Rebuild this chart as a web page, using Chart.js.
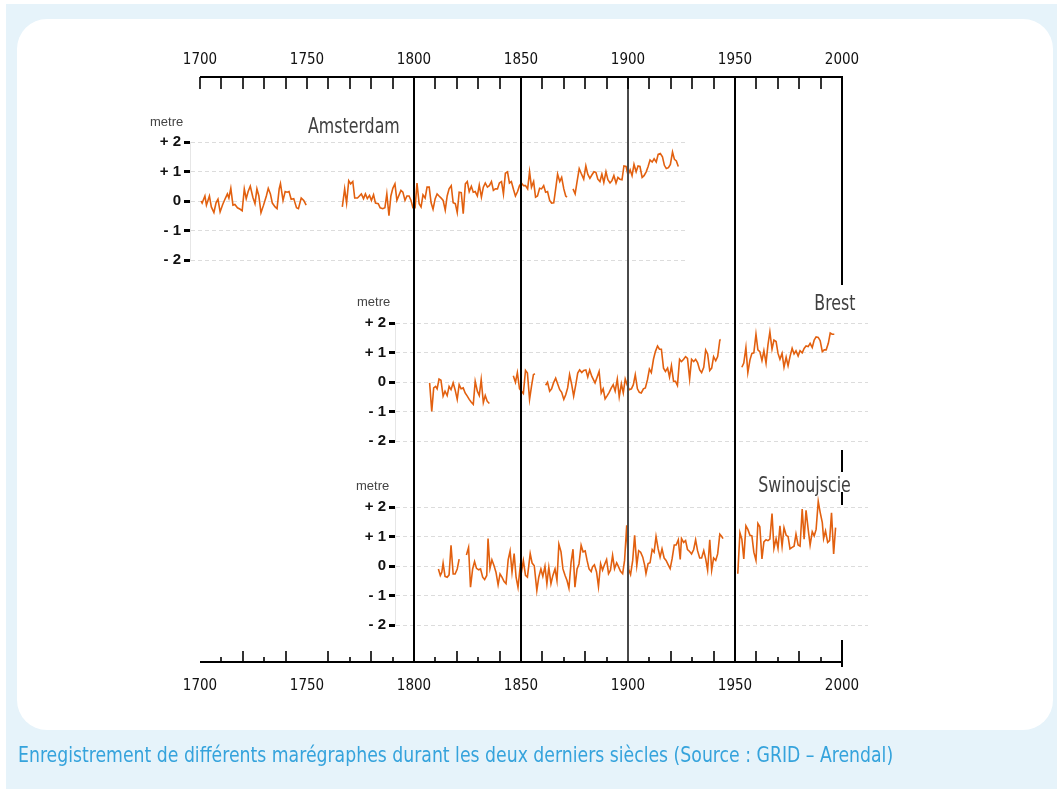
<!DOCTYPE html>
<html lang="fr">
<head>
<meta charset="UTF-8" />
<title>Marégraphes</title>
<script src="https://cdn.jsdelivr.net/npm/chart.js"></script>
<style>
  body { margin: 0; width: 1057px; height: 789px; position: relative; overflow: hidden; background: #fff;
         font-family: 'Liberation Sans', Arial, sans-serif; }
  #bg { position: absolute; left: 6px; top: 4px; width: 1051px; height: 785px; background: #e6f3fa; }
  #card { position: absolute; left: 17px; top: 19px; width: 1036px; height: 711px; background: #fff; border-radius: 30px; }
  canvas { position: absolute; }
  .station { position: absolute; font-family: 'DejaVu Sans Condensed', sans-serif; font-size: 22px; line-height: 22px;
             color: #404040; white-space: nowrap; transform: scaleX(0.8); transform-origin: right center; }
  .unit { position: absolute; font-size: 13px; line-height: 14px; color: #444; }
  #caption { position: absolute; left: 18px; top: 743px; font-family: 'DejaVu Sans Condensed', sans-serif;
             font-size: 21px; line-height: 24px; color: #35a3dc; white-space: nowrap;
             transform: scaleX(0.915); transform-origin: left center; }
</style>
</head>
<body>
<div id="bg"></div>
<div id="card"></div>

<canvas id="amsterdam" width="550" height="160" style="left:140px; top:112px"></canvas>
<canvas id="brest" width="535" height="160" style="left:340px; top:293px"></canvas>
<canvas id="swinoujscie" width="535" height="160" style="left:340px; top:477px"></canvas>
<canvas id="frame" width="1057" height="789" style="left:0; top:0"></canvas>

<div class="station" style="right:657px; top:115px">Amsterdam</div>
<div class="station" style="right:202px; top:292px">Brest</div>
<div class="station" style="right:206px; top:474px">Swinoujscie</div>
<div class="unit" style="left:150px; top:115px">metre</div>
<div class="unit" style="left:357px; top:295px">metre</div>
<div class="unit" style="left:356px; top:479px">metre</div>
<div id="caption">Enregistrement de différents marégraphes durant les deux derniers siècles (Source : GRID – Arendal)</div>

<script>
// --- data (sea level in metres, null = gap in the record) ---
const yearLabels = [1700, 1750, 1800, 1850, 1900, 1950, 2000];
const levelTickLabels = ['- 2', '- 1', '0', '+ 1', '+ 2'];

const amsterdamYears = [
  1700.5,1701,1702.3,1703,1704.4,1705.3,1706.5,1707.5,1708.4,1709.4,1710.6,1711.9,1712.8,1713.5,1714.4,1715.4,1716.3,
  1717.5,1718.8,1719.7,1720.7,1721.6,1722.5,1723.5,1724.7,1725.7,1726.6,1727.5,1728.5,1729.7,1731,1731.9,1732.9,1733.8,
  1735.1,1736,1737,1737.6,1738.8,1739.8,1740.7,1741.6,1742.6,1743.8,1745.1,1746,1747.3,1748.5,1749.6,
  1758,
  1766.5,1767.6,1768.5,1769.5,1770.4,1771.4,1772.3,1773.6,1774.5,1775.4,1776.4,1777.3,1778.2,1779.2,1780.1,1781.1,1782,
  1783.3,1784.2,1785.4,1786.4,1787.3,1788.3,1789.2,1790.1,1791.1,1792,1793.9,1794.8,1795.8,1796.7,1797.7,1798.6,1799.5,
  1800.5,1801.4,1802.4,1803.3,1804.2,1805.2,1806.1,1807.1,1808,1808.9,1809.9,1810.8,1811.7,1812.7,1813.6,1814.6,1815.5,
  1816.4,1817.4,1818.3,1819.3,1820.2,1821.1,1822.1,1823,1824,1824.9,1825.8,1826.8,1827.7,1828.6,1829.6,1830.5,1831.5,
  1832.4,1833.3,1834.3,1835.2,1836.2,1837.1,1838,1839,1839.9,1840.9,1841.8,1842.7,1843.7,1844.6,1845.5,1846.5,1847.4,
  1848.4,1849.3,1850.2,1851.2,1852.1,1853.1,1854,1854.9,1855.9,1856.8,1857.7,1858.7,1859.6,1860.6,1861.5,1862.4,1863.4,
  1864.3,1865.3,1866.2,1867.1,1868.1,1869,1870,1870.9,1871.5,
  1873,
  1874.3,1875.3,1876.2,1877.2,1878.1,1879.3,1880.3,1881.2,1882.2,1883.1,1884.1,1885,1885.9,1886.9,1887.8,1888.7,1889.7,
  1890.6,1891.6,1892.5,1893.4,1894.4,1895.3,1896.2,1897.2,1898.1,1899.1,1900,1901,1901.9,1902.8,1903.8,1904.7,1905.6,
  1906.6,1907.5,1908.5,1909.4,1910.3,1911.3,1912.2,1913.2,1914.1,1915.1,1916.1,1917,1917.9,1918.9,1919.8,1920.8,1921.7,
  1922.6,1923.5
];
const amsterdamLevels = [
  0,-0.07,0.17,-0.14,0.17,-0.2,-0.39,-0.06,0.06,-0.37,-0.12,0.1,0.24,0.1,0.43,-0.14,-0.12,
  -0.23,-0.28,-0.33,0.41,0.08,0.32,0.5,0.13,-0.09,0.41,0.17,-0.4,-0.14,0.17,0.43,0.24,-0.07,
  -0.2,-0.26,0.41,0.59,0.02,0.32,0.3,0.32,0.06,0.08,-0.23,-0.26,0.1,0.02,-0.14,
  null,
  -0.2,0.41,-0.07,0.69,0.58,0.66,0.1,0.1,0.17,0.24,0.08,0.24,0.08,0.19,0.02,0.21,-0.07,
  -0.09,-0.23,-0.26,-0.23,0.24,-0.5,0.17,0.43,0.58,0.02,0.36,0.3,0.02,0.17,0.17,0.02,-0.23,
  -0.23,0.61,-0.09,-0.2,0.21,0.1,0.47,0.47,-0.06,-0.28,0.08,0.24,0.17,0.1,0.02,-0.31,0.17,
  0.41,0.52,-0.06,-0.09,-0.39,0.3,0.28,-0.43,0.58,0.66,0.32,0.5,0.3,0.32,0.17,0.54,0.13,
  0.47,0.61,0.47,0.52,0.66,0.36,0.41,0.41,0.61,0.66,0.24,0.94,0.99,0.61,0.66,0.39,0.17,
  0.32,0.52,0.61,0.52,0.52,0.41,0.99,0.47,0.66,0.13,0.17,0.43,0.41,0.52,0.3,0.32,0.02,
  -0.07,-0.06,0.41,0.91,0.66,0.8,0.41,0.17,0.13,
  null,
  0.41,0.24,0.66,1.1,0.94,0.74,1.19,0.91,0.77,0.88,0.99,0.97,0.74,0.66,0.91,0.63,0.99,
  0.72,0.61,0.69,0.86,0.61,0.8,0.74,0.72,1.19,1.17,0.88,1.06,0.86,1.24,0.99,1.19,1.17,
  0.8,0.86,0.99,1.17,1.39,1.32,1.43,1.32,1.58,1.61,1.5,1.21,1.1,1.13,1.24,1.66,1.41,
  1.36,1.17
];

const brestYears = [
  1807.3,1808.3,1809.2,1810.1,1810.8,1811.7,1812.6,1813.6,1814.5,1815.5,1816.4,1817.3,1818.3,1819.2,1820.2,1821.1,
  1822,1823,1823.9,1824.9,1825.8,1826.7,1827.7,1828.6,1829.6,1830.5,1831.4,1832.4,1833.3,1834.2,1835.2,
  1840,
  1846.4,1847.4,1848.3,1849.3,1850.2,1851.1,1852.1,1853,1854,1854.9,1855.8,1856.5,
  1859,
  1861.5,1862.4,1863.4,1864.3,1865.2,1866.2,1867.1,1868.1,1869,1870,1870.9,1871.8,1872.7,1873.7,1874.6,1875.6,
  1876.5,1877.4,1878.4,1879.3,1880.3,1881.2,1882.1,1883.1,
  1884.6,1885.6,1886.5,1887.5,1888.4,1889.3,1890.3,1891.2,1892.2,1893.1,1894,1895,1895.9,1896.9,1897.8,1898.7,
  1899.7,1900.6,1901.6,1902.5,1903.4,1904.4,1905.3,1906.2,1907.2,1908.1,1909.1,1910,1910.9,1911.9,1912.8,1913.8,
  1914.7,1915.6,1916.6,1917.5,1918.5,1919.4,1920.3,1921.3,1922.2,1923.1,1924.1,1925,1926,1926.9,1927.8,1928.8,
  1929.7,1930.7,1931.6,1932.5,1933.5,1934.4,1935.4,1936.3,1937.2,1938.2,1939.1,1940,1941,1941.9,1942.9,1943.3,
  1948,
  1953.2,1954.1,1955.1,1956,1957,1957.9,1958.8,1959.8,1960.7,1961.6,1962.6,1963.5,1964.5,1965.4,1966.3,1967.3,
  1968.2,1969.2,1970.1,1971,1972,1972.9,1973.9,1974.8,1975.7,1976.7,1977.6,1978.5,1979.5,1980.4,1981.4,1982.3,
  1983.2,1984.2,1985.1,1986.1,1987,1987.9,1988.9,1989.8,1990.8,1991.7,1992.6,1993.6,1994.5,1995.4,1996.4
];
const brestLevels = [
  -0.03,-1.0,-0.2,-0.15,-0.23,0.1,0.06,-0.48,-0.31,-0.46,-0.15,-0.26,-0.03,-0.26,-0.59,-0.09,
  -0.23,-0.2,-0.37,-0.48,-0.59,-0.68,-0.76,0.02,-0.31,-0.46,0.08,-0.7,-0.46,-0.65,-0.73,
  null,
  0.21,-0.01,0.32,-0.23,-0.31,-0.39,0.39,0.3,-0.59,-0.15,0.25,0.28,
  null,
  -0.11,-0.01,-0.31,-0.23,-0.03,0.13,-0.06,-0.26,-0.35,-0.59,-0.43,-0.2,0.25,-0.09,-0.48,-0.09,
  0.3,0.41,0.32,0.39,0.41,0.17,0.41,0.19,
  -0.03,0.17,0.36,-0.37,-0.23,-0.57,-0.46,-0.35,-0.2,-0.09,-0.31,0.1,-0.5,-0.06,-0.37,0.1,
  -0.12,-0.26,-0.23,-0.09,0.25,-0.23,-0.35,-0.37,-0.23,-0.2,0.08,0.44,0.32,0.77,1.03,1.22,
  1.11,1.11,0.47,0.36,0.47,0.17,0.55,0.02,0.02,-0.12,0.77,0.69,0.77,0.86,0.8,0.1,
  0.77,0.69,0.77,0.66,0.41,0.32,0.5,1.08,0.95,0.39,0.47,0.86,0.72,0.86,1.42,1.44,
  null,
  0.5,0.64,1.17,0.32,0.75,0.97,0.99,1.62,1.09,1.03,0.73,1.06,0.64,1.26,1.7,1.11,
  1.42,1.37,0.97,0.77,0.97,0.5,0.84,0.55,0.86,1.14,0.95,1.06,0.88,1.06,0.99,1.14,
  1.22,1.2,1.31,1.17,1.42,1.53,1.51,1.4,1.03,1.09,1.09,1.31,1.66,1.62,1.62
];

const swinoujscieYears = [
  1811.4,1812.3,1813,1813.6,1814.5,1815.5,1816.4,1817.3,1818.3,1819.2,1820.2,1821.1,
  1823,
  1824.5,1825.5,1826.4,1827.4,1828.3,1829.2,1830.2,1831.1,1832.1,1833,1834,1834.6,1835.5,1836.4,1837.4,1838.3,
  1839.3,1840.2,1841.1,1842.1,1843,1844,1844.9,1845.8,1846.8,1847.7,1848.6,1849.6,1850.2,1851.1,1852.1,1853,
  1854.3,1855.2,1856.2,1857.4,1858.3,1859.3,1860.2,1861.2,1862.1,1863,1864,1864.9,1865.9,1866.8,1867.7,1868.7,
  1869.6,1870.6,1871.5,1872.4,1873.4,1874.3,1875.2,1876.2,1877.1,1878.1,1879,1880,1880.9,1881.8,1882.8,
  1883.4,1884.3,1885.3,1886.2,1887.2,1888.1,1889,1890,1890.9,1891.8,1892.8,1893.7,1894.7,1895.6,1896.5,1897.5,
  1898.4,1899.4,1900.3,1901.2,1902.2,1903.1,1904.1,1905,1905.9,1906.9,1907.8,1908.4,1909.4,1910.3,1911.3,1912.2,
  1913.1,1914.1,1915,1915.9,1916.9,1917.8,1918.8,1919.7,1920.6,1921.6,1922.5,1923.5,1924.4,1925,1926,1926.9,
  1927.8,1928.8,1929.7,1930.7,1931.6,1932.5,1933.5,1934.4,1935.4,1936.3,1937.2,1938.2,1939.1,1940,1941,1941.9,
  1942.9,1943.8,1944.4,
  1948,
  1951.3,1952.3,1953.2,1954.1,1955.1,1956,1957,1957.9,1958.8,1959.8,1960.7,1961.6,1962.6,1963.5,1964.5,1965.4,
  1966.3,1967.3,1968.2,1969.2,1970.1,1971,1972,1972.9,1973.9,1974.8,1975.7,1976.7,1977.6,1978.5,1979.5,1980.4,
  1981.4,1982.3,1983.2,1984.2,1985.1,1986.1,1987,1987.9,1988.9,1989.8,1990.8,1991.4,1992.3,1993.3,1994.2,1995.1,
  1996.1,1997
];
const swinoujscieLevels = [
  -0.1,-0.32,-0.21,0.1,-0.35,-0.38,-0.3,0.7,-0.27,-0.27,-0.1,0.23,
  null,
  0.37,0.63,-0.72,-0.1,0.15,-0.08,-0.13,-0.1,-0.38,-0.46,-0.32,0.93,-0.08,0.21,0.01,-0.21,
  -0.64,-0.27,-0.38,-0.53,-0.6,0.21,0.51,-0.21,0.42,-0.38,-0.72,-0.04,-0.21,0.18,-0.32,-0.38,
  0.42,0.1,0.01,-0.83,-0.38,-0.1,-0.35,-0.01,-0.6,-0.04,-0.6,-0.32,-0.1,-0.49,0.74,0.48,
  -0.1,-0.32,-0.49,-0.75,0.12,0.57,-0.72,-0.1,0.07,0.7,0.48,0.51,0.18,-0.1,-0.19,
  -0.03,0.04,-0.2,-0.7,0.08,-0.14,0.04,0.22,-0.26,-0.14,0.36,-0.09,0.11,-0.03,-0.18,-0.26,
  0.19,1.38,-0.11,-0.29,0.19,1.04,0.02,0.52,0.47,0.3,0.02,-0.26,0.08,0.11,0.56,0.47,
  1.0,0.58,0.3,0.58,0.27,0.19,0.04,-0.09,0.24,0.71,0.71,0.89,0.22,0.93,0.8,0.86,
  0.56,0.49,0.41,0.56,0.89,0.52,0.27,0.27,0.52,0.24,-0.14,0.89,-0.14,0.27,0.19,0.41,
  1.08,1.0,0.93,
  null,
  -0.26,1.13,0.91,0.24,1.36,1.24,1.04,1.02,0.47,0.19,1.44,1.33,0.24,0.82,0.89,0.86,
  0.91,1.78,0.6,0.93,0.6,1.36,0.67,1.3,1.04,1.0,0.58,0.63,0.67,1.08,0.71,0.67,
  1.93,0.91,1.89,1.24,0.71,1.16,1.02,1.24,2.19,1.82,1.47,0.93,1.19,0.8,0.86,1.8,
  0.41,1.3
];

// --- layout helpers ---
const ORANGE = '#e2600f';
const AXIS_FONT = "'DejaVu Sans Condensed', 'Liberation Sans', sans-serif";
// the shared year axis runs from 1700 at x=200 to 2000 at x=842
const X_1700 = 200, X_2000 = 842;
const yearAtPx = px => 1700 + (px - X_1700) * 300 / (X_2000 - X_1700);

Chart.defaults.font.family = "'Liberation Sans', Arial, sans-serif";

function panel(canvasId, years, levels, areaLeft, areaRight, canvasLeft, canvasWidth) {
  return new Chart(document.getElementById(canvasId), {
    type: 'line',
    data: {
      datasets: [{
        data: years.map((yr, i) => ({ x: yr, y: levels[i] })),
        borderColor: ORANGE,
        borderWidth: 1.6,
        pointRadius: 0,
        tension: 0,
        spanGaps: false,
        clip: false
      }]
    },
    options: {
      responsive: false,
      animation: false,
      events: [],
      layout: { padding: { top: 30, bottom: 10, left: 0, right: canvasLeft + canvasWidth - areaRight } },
      plugins: { legend: { display: false }, tooltip: { enabled: false } },
      scales: {
        x: { type: 'linear', display: false, min: yearAtPx(areaLeft), max: yearAtPx(areaRight) },
        y: {
          min: -2, max: 2,
          afterFit: s => { s.width = areaLeft - canvasLeft; },
          ticks: {
            stepSize: 1, padding: 3, color: '#111',
            font: { size: 15, weight: 'bold' },
            callback: (v, i) => levelTickLabels[i]
          },
          grid: { color: '#dcdcdc', lineWidth: 1, tickLength: 6, tickColor: '#000', tickWidth: 3, tickBorderDash: [] },
          border: { display: true, color: '#e6e6e6', dash: [4, 3] }
        }
      }
    }
  });
}

panel('amsterdam', amsterdamYears, amsterdamLevels, 190, 685, 140, 550);
panel('brest', brestYears, brestLevels, 395, 868, 340, 535);
panel('swinoujscie', swinoujscieYears, swinoujscieLevels, 395, 868, 340, 535);

// axis lines, tick marks and the partial 2000 line
const line = (ctx, x1, y1, x2, y2) => { ctx.beginPath(); ctx.moveTo(x1, y1); ctx.lineTo(x2, y2); ctx.stroke(); };
const frameMarks = {
  id: 'frameMarks',
  afterDraw(chart) {
    const { ctx, chartArea: a, scales: { x } } = chart;
    const left = x.getPixelForValue(1700), right = x.getPixelForValue(2000);
    ctx.save();
    ctx.strokeStyle = '#000';
    ctx.lineWidth = 2;
    line(ctx, left, a.top, right + 1, a.top);
    line(ctx, left, a.bottom, right + 1, a.bottom);
    ctx.lineWidth = 1.6;
    x.ticks.forEach(t => {
      const px = Math.round(x.getPixelForValue(t.value));
      line(ctx, px, a.top, px, a.top + 12);
      if (t.value % 50 !== 0) {
        const h = (t.value / 10) % 2 === 0 ? 11 : 5;
        line(ctx, px, a.bottom - h, px, a.bottom);
      }
    });
    ctx.lineWidth = 2;
    [[0, 208], [373, 395], [415, 428], [563, 590]].forEach(([s, e]) => line(ctx, right, a.top + s, right, a.top + e));
    ctx.restore();
  }
};

const fullLineColour = v => (v === 1800 || v === 1850 || v === 1950) ? '#000' : v === 1900 ? '#4a4a4a' : 'rgba(0,0,0,0)';

new Chart(document.getElementById('frame'), {
  type: 'line',
  data: { datasets: [] },
  options: {
    responsive: false,
    animation: false,
    events: [],
    layout: { padding: { top: 43, bottom: 79, left: X_1700, right: 1057 - X_2000 } },
    plugins: { legend: { display: false }, tooltip: { enabled: false } },
    scales: {
      x: {
        type: 'linear', position: 'top', min: 1700, max: 2000,
        ticks: {
          stepSize: 10, autoSkip: false, maxRotation: 0, maxTicksLimit: 40, padding: 8,
          color: '#111', font: { family: AXIS_FONT, size: 15 },
          callback: v => yearLabels.includes(v) ? String(v) : ''
        },
        grid: { drawTicks: false, color: c => fullLineColour(c.tick.value), lineWidth: 2 },
        border: { display: false }
      },
      x2: {
        type: 'linear', position: 'bottom', min: 1700, max: 2000,
        ticks: {
          stepSize: 10, autoSkip: false, maxRotation: 0, maxTicksLimit: 40, padding: 15,
          color: '#111', font: { family: AXIS_FONT, size: 15 },
          callback: v => yearLabels.includes(v) ? String(v) : ''
        },
        grid: { display: false, drawTicks: false },
        border: { display: false }
      },
      y: { display: false, min: 0, max: 1 }
    }
  },
  plugins: [frameMarks]
});
</script>
</body>
</html>
